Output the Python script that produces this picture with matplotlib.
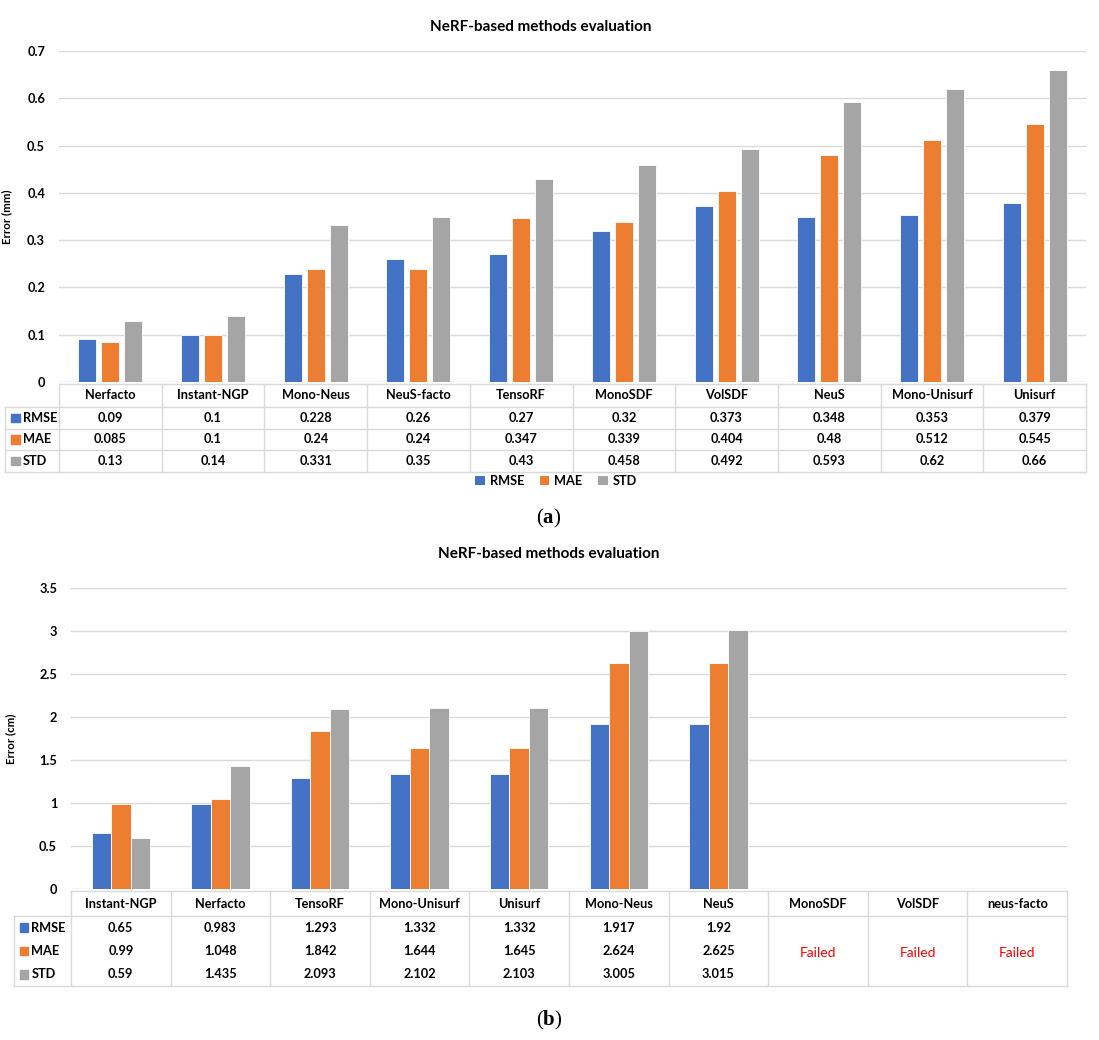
import matplotlib
matplotlib.use("Agg")
import matplotlib.pyplot as plt
from matplotlib.patches import Rectangle, Patch
import numpy as np

# ---------------- data ----------------
series = ["RMSE", "MAE", "STD"]
colors = ["#4472C4", "#ED7D31", "#A5A5A5"]

cats_a = ["Nerfacto", "Instant-NGP", "Mono-Neus", "NeuS-facto", "TensoRF",
          "MonoSDF", "VolSDF", "NeuS", "Mono-Unisurf", "Unisurf"]
rmse_a = [0.09, 0.1, 0.228, 0.26, 0.27, 0.32, 0.373, 0.348, 0.353, 0.379]
mae_a = [0.085, 0.1, 0.24, 0.24, 0.347, 0.339, 0.404, 0.48, 0.512, 0.545]
std_a = [0.13, 0.14, 0.331, 0.35, 0.43, 0.458, 0.492, 0.593, 0.62, 0.66]
yticks_a = [0, 0.1, 0.2, 0.3, 0.4, 0.5, 0.6, 0.7]
yticklabels_a = ["0", "0.1", "0.2", "0.3", "0.4", "0.5", "0.6", "0.7"]

cats_b = ["Instant-NGP", "Nerfacto", "TensoRF", "Mono-Unisurf", "Unisurf",
          "Mono-Neus", "NeuS", "MonoSDF", "VolSDF", "neus-facto"]
rmse_b = [0.65, 0.983, 1.293, 1.332, 1.332, 1.917, 1.92, None, None, None]
mae_b = [0.99, 1.048, 1.842, 1.644, 1.645, 2.624, 2.625, None, None, None]
std_b = [0.59, 1.435, 2.093, 2.102, 2.103, 3.005, 3.015, None, None, None]
yticks_b = [0, 0.5, 1, 1.5, 2, 2.5, 3, 3.5]
yticklabels_b = ["0", "0.5", "1", "1.5", "2", "2.5", "3", "3.5"]
failed_text = "Failed"

title = "NeRF-based methods evaluation"

# ---------------- style ----------------
FONT = "Lato"
plt.rcParams["font.family"] = [FONT, "DejaVu Sans"]
plt.rcParams["mathtext.fontset"] = "custom"
plt.rcParams["mathtext.rm"] = "Liberation Serif"
plt.rcParams["mathtext.bf"] = "Liberation Serif:bold"
GRID = "#D9D9D9"
TXT = "#000000"

W, H = 1099, 1040
fig = plt.figure(figsize=(W / 100, H / 100), dpi=100)


def fx(px):
    return px / W


def fy(py):
    return 1 - py / H


def make_axes(left, right, top, bottom):
    return fig.add_axes([fx(left), fy(bottom), fx(right - left), (bottom - top) / H])


def bar_chart(ax, cats, vals_list, width, step, yticks, ylabels, ylim, ylabel):
    x = np.arange(len(cats))
    for i, (vals, c) in enumerate(zip(vals_list, colors)):
        v = np.array([np.nan if a is None else a for a in vals], dtype=float)
        ax.bar(x + (i - 1) * step, v, width=width, color=c,
               edgecolor="white", linewidth=0.6, zorder=3)
    ax.set_xlim(-0.5, len(cats) - 0.5)
    ax.set_ylim(*ylim)
    ax.set_yticks(yticks)
    ax.set_yticklabels(ylabels, fontsize=9.2, fontweight="bold", color=TXT)
    ax.set_xticks([])
    ax.tick_params(axis="y", length=0, pad=10)
    for s in ax.spines.values():
        s.set_visible(False)
    ax.grid(axis="y", color=GRID, linewidth=1, zorder=0)
    ax.set_axisbelow(True)
    ax.set_ylabel(ylabel, fontsize=8.3, fontweight="bold", color=TXT)


def draw_table(left, right, top, bottom, header_h, cats, vals_list, label_left,
               merged, fs):
    axt = make_axes(label_left, right, top, bottom)
    ncat = len(cats)
    colw = (right - left) / ncat
    lab_units = (left - label_left) / colw
    axt.set_xlim(-0.5 - lab_units, ncat - 0.5)
    total = bottom - top
    axt.set_ylim(total, 0)  # pixel units, downward
    axt.axis("off")
    lw = 1.0
    hx0, hx1 = -0.5, ncat - 0.5
    axt.plot([hx0, hx1], [0, 0], color=GRID, lw=lw, clip_on=False)
    axt.plot([-0.5 - lab_units, hx1], [header_h, header_h], color=GRID, lw=lw, clip_on=False)
    axt.plot([-0.5 - lab_units, hx1], [total, total], color=GRID, lw=lw, clip_on=False)
    for k in range(ncat + 1):
        axt.plot([k - 0.5, k - 0.5], [0, total], color=GRID, lw=lw, clip_on=False)
    axt.plot([-0.5 - lab_units] * 2, [header_h, total], color=GRID, lw=lw, clip_on=False)
    nr = len(vals_list)
    rh = (total - header_h) / nr
    if not merged:
        for r in range(1, nr):
            axt.plot([-0.5 - lab_units, hx1], [header_h + r * rh] * 2,
                     color=GRID, lw=lw, clip_on=False)
    for k, c in enumerate(cats):
        axt.text(k, header_h / 2, c, ha="center", va="center", fontsize=fs,
                 fontweight="bold", color=TXT)
    failed_done = set()
    for r, (vals, name, col) in enumerate(zip(vals_list, series, colors)):
        yc = header_h + (r + 0.5) * rh
        kx = -0.5 - lab_units + 0.06
        sq = 8.5
        axt.add_patch(Rectangle((kx, yc - sq / 2), sq / colw, sq, color=col,
                                clip_on=False))
        axt.text(kx + sq / colw + 0.03, yc, name, ha="left", va="center",
                 fontsize=fs, fontweight="bold", color=TXT)
        for k, v in enumerate(vals):
            if v is None:
                if k not in failed_done:
                    failed_done.add(k)
                    axt.text(k, header_h + (total - header_h) / 2 + 2, failed_text,
                             ha="center", va="center", fontsize=fs + 0.8,
                             color="#FF0000")
            else:
                axt.text(k, yc, f"{v:g}", ha="center", va="center", fontsize=fs,
                         fontweight="bold", color=TXT)
    return axt


# ---------------- chart (a) ----------------
ax1 = make_axes(59, 1086, 51, 382)
bar_chart(ax1, cats_a, [rmse_a, mae_a, std_a], 0.175, 0.224,
          yticks_a, yticklabels_a, (0, 0.7), "Error (mm)")
ax1.yaxis.set_label_coords(-(59 - 12) / (1086 - 59), 0.5)
fig.text(fx(541), fy(27), title, ha="center", va="center",
         fontsize=11, fontweight="bold", color=TXT)

draw_table(59, 1086, 384, 472, 23, cats_a, [rmse_a, mae_a, std_a], 5, False, 9.2)

handles = [Patch(facecolor=c, edgecolor="none") for c in colors]
leg = fig.legend(handles, series, loc="center", bbox_to_anchor=(fx(556), fy(481)),
                 ncol=3, frameon=False, handlelength=0.75, handleheight=0.75,
                 handletextpad=0.4, columnspacing=1.2,
                 prop={"family": FONT, "weight": "bold", "size": 9.2})

fig.text(fx(549), fy(518), r"($\mathbf{a}$)", ha="center", va="center",
         fontsize=15, family="Liberation Serif", color=TXT)

# ---------------- chart (b) ----------------
ax2 = make_axes(71, 1067, 588, 889)
bar_chart(ax2, cats_b, [rmse_b, mae_b, std_b], 0.196, 0.196,
          yticks_b, yticklabels_b, (0, 3.5), "Error (cm)")
ax2.yaxis.set_label_coords(-(71 - 16) / (1067 - 71), 0.5)
fig.text(fx(549), fy(554), title, ha="center", va="center",
         fontsize=11, fontweight="bold", color=TXT)

draw_table(71, 1067, 891, 986, 25, cats_b, [rmse_b, mae_b, std_b], 14, True, 9.2)

fig.text(fx(549), fy(1020), r"($\mathbf{b}$)", ha="center", va="center",
         fontsize=15, family="Liberation Serif", color=TXT)

fig.savefig("out.png", dpi=100, facecolor="white")
